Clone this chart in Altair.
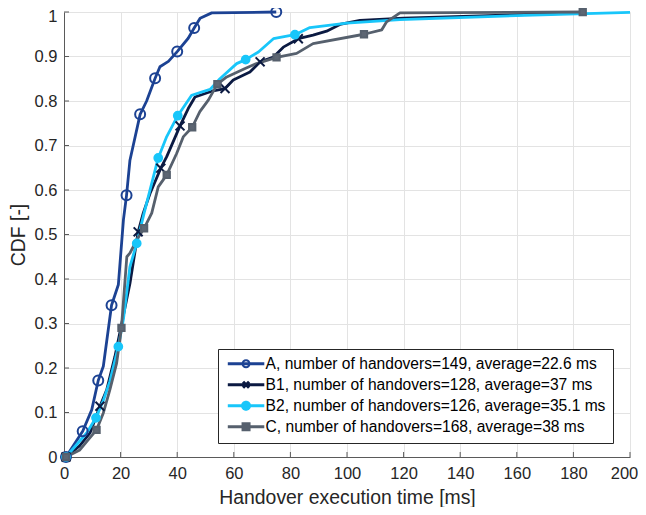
import altair as alt
import pandas as pd

# ---------------- data ----------------
series_names = [
    "A, number of handovers=149, average=22.6 ms",
    "B1, number of handovers=128, average=37 ms",
    "B2, number of handovers=126, average=35.1 ms",
    "C, number of handovers=168, average=38 ms",
]

a_x = [0.7, 6.6, 9.8, 12.1, 13.9, 16.8, 19.2, 21.0, 22.1, 23.3, 26.9, 29.2, 32.2, 33.9, 36.9,
       40.0, 43.9, 46.0, 48.1, 52.2, 75.0]
a_y = [0.0, 0.058, 0.106, 0.172, 0.204, 0.341, 0.387, 0.533, 0.588, 0.667, 0.770, 0.800, 0.851,
       0.877, 0.889, 0.911, 0.941, 0.964, 0.986, 0.998, 1.0]
a_marks = [0.7, 6.6, 12.1, 16.8, 22.1, 26.9, 32.2, 40.0, 46.0, 75.0]

b1_x = [0.7, 5.5, 9.2, 12.7, 15.1, 18.0, 20.4, 23.3, 26.2, 28.0, 30.4, 34.2, 36.3, 41.0, 43.9,
        46.3, 52.2, 56.9, 59.8, 65.7, 69.3, 74.0, 77.5, 82.8, 88.0, 92.8, 97.5, 104.6, 120.0,
        150.0, 183.0]
b1_y = [0.0, 0.025, 0.054, 0.114, 0.151, 0.226, 0.300, 0.390, 0.506, 0.548, 0.592, 0.649, 0.675,
        0.744, 0.783, 0.809, 0.822, 0.828, 0.847, 0.865, 0.888, 0.899, 0.921, 0.940, 0.948,
        0.957, 0.972, 0.981, 0.986, 0.992, 0.998]
b1_marks = [0.7, 12.7, 26.2, 34.2, 41.0, 56.9, 69.3, 82.8]

b2_x = [0.7, 8.0, 11.3, 13.9, 16.2, 19.2, 21.0, 23.3, 25.7, 28.3, 33.3, 36.3, 40.2, 45.1, 51.6,
        55.1, 61.0, 64.2, 68.7, 74.0, 81.6, 86.9, 99.9, 118.7, 165.7, 200.0]
b2_y = [0.0, 0.054, 0.088, 0.127, 0.170, 0.248, 0.310, 0.428, 0.480, 0.548, 0.672, 0.720, 0.767,
        0.813, 0.826, 0.850, 0.884, 0.893, 0.910, 0.940, 0.949, 0.965, 0.975, 0.983, 0.993, 0.999]
b2_marks = [0.7, 11.3, 19.2, 25.7, 33.3, 40.2, 64.2, 81.6]

c_x = [0.7, 5.6, 8.6, 11.5, 13.9, 16.2, 18.6, 20.3, 22.2, 23.3, 25.7, 28.3, 31.0, 33.3, 36.3,
       39.8, 42.2, 45.3, 48.0, 51.0, 54.2, 57.5, 64.0, 68.0, 75.1, 82.2, 88.0, 106.0, 112.3,
       114.0, 118.7, 183.3]
c_y = [0.0, 0.016, 0.039, 0.061, 0.099, 0.151, 0.211, 0.290, 0.450, 0.458, 0.488, 0.514, 0.548,
       0.607, 0.634, 0.682, 0.720, 0.741, 0.776, 0.802, 0.838, 0.854, 0.873, 0.884, 0.898,
       0.907, 0.929, 0.950, 0.960, 0.978, 0.998, 1.0]
c_marks = [0.7, 11.5, 20.3, 28.3, 36.3, 45.3, 54.2, 75.1, 106.0, 183.3]

x_ticks = [0, 20, 40, 60, 80, 100, 120, 140, 160, 180, 200]
y_ticks = [0, 0.1, 0.2, 0.3, 0.4, 0.5, 0.6, 0.7, 0.8, 0.9, 1.0]

# ---------------- styles ----------------
line_colors = ["#1c4293", "#0b1a42", "#18c6fa", "#56606d"]
fill_colors = ["transparent", "#0b1a42", "#18c6fa", "#5d6673"]
marker_shapes = ["circle", "M-1,-1L1,1M1,-1L-1,1", "circle", "square"]
marker_sizes = [100, 40, 72, 85]

# legend symbols: line + marker drawn as one filled path (1 unit = 5 px)
leg_line = "M-1,-0.3H6.3V0.3H-1Z"
leg_paths = [
    leg_line + "M1.75,0A0.9,0.9 0 1,1 3.55,0A0.9,0.9 0 1,1 1.75,0Z"
    + "M2.15,0A0.5,0.5 0 1,0 3.15,0A0.5,0.5 0 1,0 2.15,0Z",
    leg_line + "M2.26,-0.81L3.46,0.39L3.04,0.81L1.84,-0.39Z"
    + "M3.46,-0.39L2.26,0.81L1.84,0.39L3.04,-0.81Z",
    leg_line + "M1.65,0A1,1 0 1,1 3.65,0A1,1 0 1,1 1.65,0Z",
    leg_line + "M1.75,-0.9H3.55V0.9H1.75Z",
]

# ---------------- tables ----------------
rows = []
for name, xs, ys in zip(series_names, [a_x, b1_x, b2_x, c_x], [a_y, b1_y, b2_y, c_y]):
    for xv, yv in zip(xs, ys):
        rows.append({"series": name, "x": xv, "y": yv})
df_lines = pd.DataFrame(rows)

mrows = []
for name, xs, ys, ms in zip(series_names, [a_x, b1_x, b2_x, c_x], [a_y, b1_y, b2_y, c_y],
                            [a_marks, b1_marks, b2_marks, c_marks]):
    for xv, yv in zip(xs, ys):
        if xv in ms:
            mrows.append({"series": name, "x": xv, "y": yv})
df_marks = pd.DataFrame(mrows)

df_xt = pd.DataFrame({"x": x_ticks})
df_yt = pd.DataFrame({"y": y_ticks})

W, H = 566, 445
FONT = "Liberation Sans"
TXT = "#262626"
AX = "#5a5a5a"

x_scale = alt.Scale(domain=[0, 200], nice=False, zero=False)
y_scale = alt.Scale(domain=[0, 1], nice=False)

x_axis = alt.Axis(values=x_ticks, format="d", title="Handover execution time [ms]",
                  ticks=False, labelPadding=8, titlePadding=7, labelFlush=False,
                  labelOffset={"condition": {"test": "datum.value >= 200", "value": -6},
                               "value": 0})
y_axis = alt.Axis(values=y_ticks, format="~g", title="CDF [-]",
                  ticks=False, labelPadding=7, titlePadding=6, labelFlush=False,
                  labelOffset={"condition": {"test": "datum.value >= 1", "value": 4},
                               "value": 0})

X = alt.X("x:Q", scale=x_scale, axis=x_axis)
Y = alt.Y("y:Q", scale=y_scale, axis=y_axis)

legend = alt.Legend(
    title=None, orient="none", legendX=154, legendY=337,
    padding=7, fillColor="white", strokeColor=TXT, cornerRadius=0,
    labelFont=FONT, labelFontSize=15.6, labelColor="black", labelLimit=600,
    symbolSize=100, labelOffset=25, rowPadding=4,
    symbolStrokeWidth=0, symbolOpacity=1,
)

lines = alt.Chart(df_lines).mark_line(strokeWidth=2.8, strokeJoin="round").encode(
    x=X, y=Y,
    color=alt.Color("series:N", scale=alt.Scale(domain=series_names, range=line_colors),
                    legend=None),
)

points = alt.Chart(df_marks).mark_point(filled=False, strokeWidth=2, opacity=1).encode(
    x=X, y=Y,
    stroke=alt.Stroke("series:N", scale=alt.Scale(domain=series_names, range=line_colors),
                      legend=None),
    fill=alt.Fill("series:N", scale=alt.Scale(domain=series_names, range=fill_colors),
                  legend=None),
    shape=alt.Shape("series:N", scale=alt.Scale(domain=series_names, range=marker_shapes),
                    legend=None),
    size=alt.Size("series:N", scale=alt.Scale(domain=series_names, range=marker_sizes),
                  legend=None),
)

# legend-only layer: no rows survive the filter, the legend comes from the explicit domain
legend_layer = alt.Chart(df_marks).mark_point(filled=True, opacity=1, size=100, strokeWidth=0).encode(
    x=X, y=Y,
    fill=alt.Fill("series:N", scale=alt.Scale(domain=series_names, range=line_colors),
                  legend=legend),
    shape=alt.Shape("series:N", scale=alt.Scale(domain=series_names, range=leg_paths),
                    legend=legend),
).transform_filter(alt.datum.x < -1000)

xticks = alt.Chart(df_xt).mark_rule(color=AX, strokeWidth=1).encode(
    x=X, y=alt.value(H), y2=alt.value(H - 5),
)
yticks = alt.Chart(df_yt).mark_rule(color=AX, strokeWidth=1).encode(
    y=Y, x=alt.value(0), x2=alt.value(5),
)

chart = alt.layer(lines, xticks, yticks, points, legend_layer).resolve_scale(
    shape="independent", fill="independent"
).properties(
    width=W, height=H,
    padding={"left": 56, "top": 4, "right": 8, "bottom": 50},
    autosize=alt.AutoSizeParams(type="none"),
).configure_view(strokeWidth=0).configure_axis(
    grid=True, gridColor="#e3e3e3", gridWidth=1,
    domainColor=AX, domainWidth=1,
    labelFont=FONT, labelFontSize=16.5, labelColor=TXT,
    titleFont=FONT, titleFontSize=19.4, titleFontWeight="normal", titleColor=TXT,
)

chart.save("out.html", embed_options={"renderer": "svg", "actions": False})
